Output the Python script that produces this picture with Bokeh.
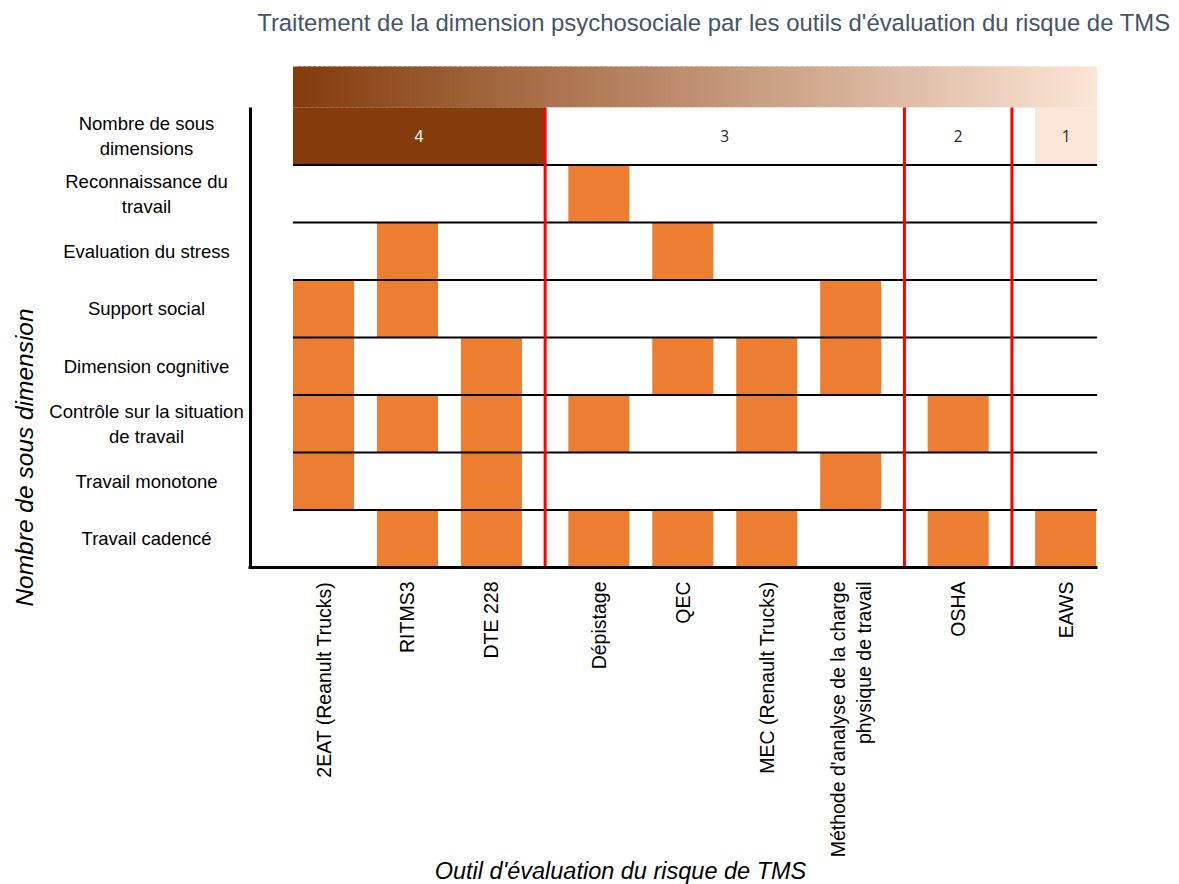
import math
from bokeh.plotting import figure
from bokeh.models import Range1d, FixedTicker, ColumnDataSource
from bokeh.embed import file_html
from bokeh.resources import INLINE
from bokeh.core.properties import value

# ---------------- data ----------------
tools = [
    "2EAT (Reanult Trucks)",
    "RITMS3",
    "DTE 228",
    "Dépistage",
    "QEC",
    "MEC (Renault Trucks)",
    "Méthode d'analyse de la charge\nphysique de travail",
    "OSHA",
    "EAWS",
]
tool_groups = [4, 4, 4, 3, 3, 3, 3, 2, 1]          # number of sub-dimensions per tool
group_values = [4, 3, 2, 1]
group_fill = ["#843C0C", "#FFFFFF", "#FFFFFF", "#FBE5D6"]
group_text_color = ["#FFFFFF", "#262626", "#262626", "#262626"]

header_label = "Nombre de sous\ndimensions"
dimensions = [
    "Reconnaissance du\ntravail",
    "Evaluation du stress",
    "Support social",
    "Dimension cognitive",
    "Contrôle sur la situation\nde travail",
    "Travail monotone",
    "Travail cadencé",
]
reconnaissance = [0, 0, 0, 1, 0, 0, 0, 0, 0]
stress         = [0, 1, 0, 0, 1, 0, 0, 0, 0]
support        = [1, 1, 0, 0, 0, 0, 1, 0, 0]
cognitive      = [1, 0, 1, 0, 1, 1, 1, 0, 0]
controle       = [1, 1, 1, 1, 0, 1, 0, 1, 0]
monotone       = [1, 0, 1, 0, 0, 0, 1, 0, 0]
cadence        = [0, 1, 1, 1, 1, 1, 0, 1, 1]
presence = [reconnaissance, stress, support, cognitive, controle, monotone, cadence]

title_text = "Traitement de la dimension psychosociale par les outils d'évaluation du risque de TMS"
x_title = "Outil d'évaluation du risque de TMS"
y_title = "Nombre de sous dimension"

# ---------------- layout constants ----------------
W_PX, H_PX = 1179, 884
GROUP_GAP = 0.28
BAR_W = 0.727
PPU_X = 83.95           # pixels per category step
PPU_Y = 57.5            # pixels per row
X0_PX = 323             # pixel position of the first tool
Y0_PX = 567             # pixel position of the bottom of the grid
FONT = "Liberation Sans"
ORANGE = "#ED7D31"

# x positions of the tools (categories spaced, with extra gap between groups)
xs = []
g_idx = 0
prev = tool_groups[0]
for i, g in enumerate(tool_groups):
    if g != prev:
        g_idx += 1
        prev = g
    xs.append(round(i + GROUP_GAP * g_idx, 3))


def px_x(px):
    return xs[0] + (px - X0_PX) / PPU_X


def px_y(py):
    return (Y0_PX - py) / PPU_Y


x_start, x_end = px_x(0), px_x(W_PX)
y_start, y_end = px_y(H_PX), px_y(0)
n_rows = len(dimensions) + 1
grid_left = xs[0] - BAR_W / 2
grid_right = xs[-1] + BAR_W / 2 + 0.012
banner_top = n_rows + 41 / PPU_Y

p = figure(
    width=W_PX, height=H_PX, title=None,
    x_range=Range1d(x_start, x_end), y_range=Range1d(y_start, y_end),
    output_backend="svg", toolbar_location=None, min_border=0,
)
p.outline_line_color = None
p.xgrid.visible = False
p.ygrid.visible = False
p.background_fill_color = "white"
p.border_fill_color = "white"

# ---------------- gradient banner ----------------
c0 = (0x84, 0x3C, 0x0C)
c1 = (0xFB, 0xE5, 0xD6)
N = 160
step = (grid_right - grid_left) / N
lefts, rights, cols = [], [], []
for k in range(N):
    t = k / (N - 1)
    col = tuple(int(round(a + (b - a) * t)) for a, b in zip(c0, c1))
    lefts.append(grid_left + k * step)
    rights.append(min(grid_left + (k + 1.6) * step, grid_right))
    cols.append("#%02x%02x%02x" % col)
p.quad(left=lefts, right=rights, bottom=n_rows, top=banner_top, fill_color=cols, line_color=None)

# ---------------- header row (number of sub-dimensions) ----------------
bounds = []
for i in range(1, len(xs)):
    if tool_groups[i] != tool_groups[i - 1]:
        bounds.append((xs[i - 1] + xs[i]) / 2)
hl, hr, hx = [], [], []
for gi, gv in enumerate(group_values):
    idx = [i for i, g in enumerate(tool_groups) if g == gv]
    if gi == 0 or gi == len(group_values) - 1:
        left = xs[idx[0]] - BAR_W / 2
    else:
        left = bounds[gi - 1]
    right = bounds[gi] if gi < len(bounds) else grid_right
    hl.append(left)
    hr.append(right)
    hx.append((left + right) / 2)
p.quad(left=hl, right=hr, bottom=n_rows - 1, top=n_rows, fill_color=group_fill, line_color=None)
hsrc = ColumnDataSource(dict(x=hx, y=[n_rows - 0.5] * len(hx),
                             t=[str(v) for v in group_values], c=group_text_color))
p.text(x="x", y="y", text="t", text_color="c", source=hsrc, text_align="center",
       text_baseline="middle", text_font=value("Open Sans"), text_font_size="15.5px")

# ---------------- presence cells ----------------
bx, bb, bt = [], [], []
for r, row in enumerate(presence):
    yc = n_rows - 1.5 - r
    for i, v in enumerate(row):
        if v:
            bx.append(xs[i])
            bb.append(yc - 0.5)
            bt.append(yc + 0.5)
p.vbar(x=bx, bottom=bb, top=bt, width=BAR_W, fill_color=ORANGE, line_color=None)

# ---------------- row separator lines ----------------
ys = list(range(1, n_rows))
p.segment(x0=[grid_left] * len(ys), x1=[grid_right] * len(ys), y0=ys, y1=ys,
          line_color="black", line_width=2)

# ---------------- red group separators ----------------
p.segment(x0=bounds, x1=bounds, y0=[0] * len(bounds), y1=[n_rows] * len(bounds),
          line_color="#FF0000", line_width=3)

# ---------------- axes ----------------
axis_x = px_x(249.5)
p.xaxis.fixed_location = 0
p.xaxis.bounds = (px_x(248), grid_right)
p.xaxis.ticker = FixedTicker(ticks=xs)
p.xaxis.major_label_overrides = {x: t for x, t in zip(xs, tools)}
p.xaxis.major_label_orientation = math.pi / 2
p.xaxis.major_label_text_font = FONT
p.xaxis.major_label_text_font_size = "19.5px"
p.xaxis.major_label_text_color = "black"
p.xaxis.major_label_standoff = 8
p.xaxis.major_tick_line_color = None
p.xaxis.minor_tick_line_color = None
p.xaxis.axis_line_width = 3
p.xaxis.axis_line_color = "black"

p.yaxis.fixed_location = axis_x
p.yaxis.bounds = (0, n_rows)
p.yaxis.ticker = FixedTicker(ticks=[])
p.yaxis.major_tick_line_color = None
p.yaxis.minor_tick_line_color = None
p.yaxis.axis_line_width = 3
p.yaxis.axis_line_color = "black"

# row labels (centered text left of the grid)
row_labels = [header_label] + dimensions
lsrc = ColumnDataSource(dict(x=[px_x(146)] * len(row_labels),
                             y=[n_rows - 0.5 - k for k in range(len(row_labels))],
                             t=row_labels))
p.text(x="x", y="y", text="t", source=lsrc, text_align="center", text_baseline="middle",
       text_font=value(FONT), text_font_size="18.5px", text_color="black")

# chart title
p.text(x=[px_x(1170)], y=[px_y(22)], text=[title_text], text_align="right",
       text_baseline="middle", text_font=value(FONT), text_font_size="23.9px",
       text_color="#44546A")
# x axis title
p.text(x=[px_x(620)], y=[px_y(870)], text=[x_title], text_align="center",
       text_baseline="middle", text_font=value(FONT), text_font_size="23.5px",
       text_font_style="italic", text_color="black")
# y axis title
p.text(x=[px_x(24)], y=[px_y(457)], text=[y_title], text_align="center",
       text_baseline="middle", angle=math.pi / 2, text_font=value(FONT),
       text_font_size="24.5px", text_font_style="italic", text_color="black")

open("out.html", "w").write(file_html(p, INLINE))
